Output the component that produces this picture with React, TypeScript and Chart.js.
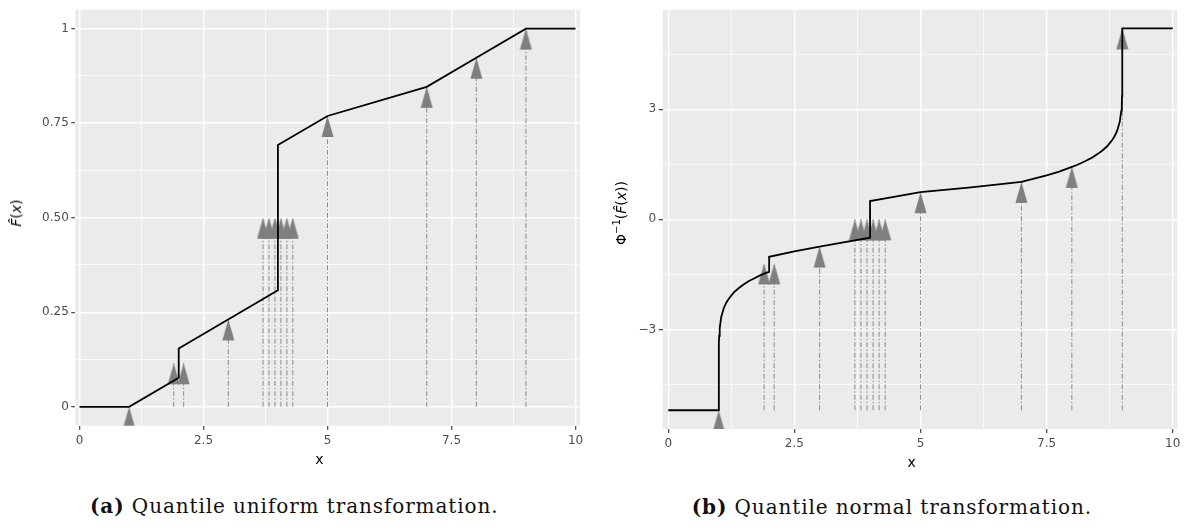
import React, { useEffect, useRef } from 'react';
import { Chart, registerables } from 'chart.js';

Chart.register(...registerables);

// Observations (tied values dodged sideways) and the height each arrow reaches.
const arrowX = [1, 1.9, 2.1, 3, 3.7, 3.82, 3.94, 4.06, 4.18, 4.3, 5, 7, 8, 9];
const uniformArrowY = [0, 0.115, 0.115, 0.231, 0.5, 0.5, 0.5, 0.5, 0.5, 0.5, 0.769, 0.846, 0.923, 1];
const normalArrowY = [-5.2, -1.2, -1.2, -0.74, 0, 0, 0, 0, 0, 0, 0.74, 1.02, 1.43, 5.2];

// Interpolated empirical CDF.
const uniformCurveX = [0, 1, 2, 2, 4, 4, 5, 7, 8, 9, 10];
const uniformCurveY = [0, 0, 0.077, 0.154, 0.308, 0.692, 0.769, 0.846, 0.923, 1, 1];

// Same CDF pushed through the standard normal quantile function (clipped at ±5.2).
const normalCurveX = [
  0, 1, 1.001, 1.005, 1.01, 1.02, 1.05, 1.1, 1.15, 1.2, 1.3, 1.4, 1.5, 1.6, 1.7, 1.8, 1.9, 2,
  2, 2.5, 3, 3.5, 4, 4, 4.5, 5, 6, 7, 7.25, 7.5, 7.75, 8, 8.1, 8.2, 8.3, 8.4, 8.5, 8.6, 8.7,
  8.8, 8.85, 8.9, 8.95, 8.98, 8.99, 8.995, 8.999, 9, 10,
];
const normalCurveY = [
  -5.2, -5.2, -3.78, -3.36, -3.17, -2.96, -2.66, -2.42, -2.27, -2.16, -1.99, -1.87, -1.77, -1.68,
  -1.61, -1.54, -1.48, -1.43, -1.02, -0.87, -0.74, -0.62, -0.5, 0.5, 0.62, 0.74, 0.87, 1.02, 1.11,
  1.2, 1.3, 1.43, 1.48, 1.54, 1.61, 1.68, 1.77, 1.87, 1.99, 2.16, 2.27, 2.42, 2.66, 2.96, 3.17,
  3.36, 3.78, 5.2, 5.2,
];

const xTickValues = [0, 2.5, 5, 7.5, 10];
const xTickLabels = ['0', '2.5', '5', '7.5', '10'];
const xMinorValues = [1.25, 3.75, 6.25, 8.75];

const uniformTickValues = [0, 0.25, 0.5, 0.75, 1];
const uniformTickLabels = ['0', '0.25', '0.50', '0.75', '1'];
const uniformMinorValues = [0.125, 0.375, 0.625, 0.875];

const normalTickValues = [-3, 0, 3];
const normalTickLabels = ['\u22123', '0', '3'];
const normalMinorValues = [-4.5, -1.5, 1.5, 4.5];

const PANEL_BG = '#EBEBEB';
const ARROW_GREY = '#7F7F7F';
const STEM_GREY = '#8A8A8A';
const AXIS_FONT = '"DejaVu Sans", sans-serif';

const panelBackground = {
  id: 'panelBackground',
  beforeDraw(chart: any) {
    const { ctx, chartArea } = chart;
    ctx.save();
    ctx.fillStyle = PANEL_BG;
    ctx.fillRect(chartArea.left, chartArea.top, chartArea.right - chartArea.left, chartArea.bottom - chartArea.top);
    ctx.restore();
  },
};

function makeArrowHead(): HTMLCanvasElement {
  // Apex sits at the image centre so the point position is the arrow tip.
  const c = document.createElement('canvas');
  c.width = 13;
  c.height = 44;
  const g = c.getContext('2d')!;
  g.fillStyle = ARROW_GREY;
  g.beginPath();
  g.moveTo(6.5, 22);
  g.lineTo(12.5, 43);
  g.lineTo(0.5, 43);
  g.closePath();
  g.fill();
  return c;
}

function axisOptions(
  min: number,
  max: number,
  majors: number[],
  labels: string[],
  minors: number[],
  position: 'left' | 'bottom',
  size: number,
) {
  const majorLabel = new Map<number, string>(majors.map((v, i) => [v, labels[i]]));
  return {
    type: 'linear',
    position,
    min,
    max,
    afterBuildTicks: (axis: any) => {
      axis.ticks = [...majors, ...minors].sort((a, b) => a - b).map((v) => ({ value: v }));
    },
    afterFit: (axis: any) => {
      if (position === 'left') axis.width = size;
      else axis.height = size;
    },
    ticks: {
      autoSkip: false,
      maxRotation: 0,
      minRotation: 0,
      padding: position === 'left' ? 2.5 : 3.5,
      color: '#4D4D4D',
      font: { family: AXIS_FONT, size: 12 },
      callback: (v: number) => majorLabel.get(v) ?? '',
    },
    grid: {
      color: '#FFFFFF',
      lineWidth: (ctx: any) => (majorLabel.has(ctx.tick?.value) ? 1.4 : 0.7),
      tickColor: (ctx: any) => (majorLabel.has(ctx.tick?.value) ? '#333333' : 'rgba(0,0,0,0)'),
      tickLength: 4,
      tickWidth: 1.1,
      drawTicks: true,
    },
    border: { display: false },
  };
}

type PanelProps = {
  left: number;
  top: number;
  width: number;
  height: number;
  area: { left: number; top: number; right: number; bottom: number };
  xRange: [number, number];
  yRange: [number, number];
  yTicks: number[];
  yLabels: string[];
  yMinor: number[];
  curveX: number[];
  curveY: number[];
  arrowY: number[];
  stemBase: number;
};

function Panel(p: PanelProps) {
  const ref = useRef<HTMLCanvasElement>(null);

  useEffect(() => {
    const canvas = ref.current;
    if (!canvas) return;
    const head = makeArrowHead();

    const curve = {
      data: p.curveX.map((x, i) => ({ x, y: p.curveY[i] })),
      showLine: true,
      borderColor: '#000000',
      borderWidth: 1.8,
      pointRadius: 0,
      tension: 0,
      fill: false,
      order: 0,
    };
    const heads = {
      data: arrowX.map((x, i) => ({ x, y: p.arrowY[i] })),
      showLine: false,
      pointStyle: head,
      pointRadius: 6,
      clip: 0,
      order: 1,
    };
    const stems = arrowX.map((x, i) => ({
      data: [
        { x, y: p.stemBase },
        { x, y: p.arrowY[i] },
      ],
      showLine: true,
      borderColor: STEM_GREY,
      borderWidth: 1,
      borderDash: [5, 2, 1.5, 2],
      pointRadius: 0,
      order: 2,
    }));

    const chart = new Chart(canvas, {
      type: 'scatter',
      data: { datasets: [curve, heads, ...stems] as any },
      options: {
        responsive: false,
        animation: false,
        events: [],
        layout: {
          padding: { left: 0, top: p.area.top, right: p.width - p.area.right, bottom: 0 },
        },
        scales: {
          x: axisOptions(p.xRange[0], p.xRange[1], xTickValues, xTickLabels, xMinorValues, 'bottom', p.height - p.area.bottom) as any,
          y: axisOptions(p.yRange[0], p.yRange[1], p.yTicks, p.yLabels, p.yMinor, 'left', p.area.left) as any,
        },
        plugins: { legend: { display: false }, tooltip: { enabled: false } },
      },
      plugins: [panelBackground],
    });
    return () => chart.destroy();
  }, []);

  return (
    <canvas
      ref={ref}
      width={p.width}
      height={p.height}
      style={{ position: 'absolute', left: p.left, top: p.top, width: p.width, height: p.height }}
    />
  );
}

const axisTitle: React.CSSProperties = {
  position: 'absolute',
  fontFamily: AXIS_FONT,
  fontSize: 14,
  color: '#000',
  whiteSpace: 'nowrap',
  lineHeight: 1,
};

const caption: React.CSSProperties = {
  position: 'absolute',
  fontFamily: '"DejaVu Serif", serif',
  fontSize: 20,
  letterSpacing: 0.9,
  color: '#111',
  whiteSpace: 'nowrap',
  lineHeight: '20px',
};

export default function App() {
  return (
    <div style={{ position: 'absolute', left: 0, top: 0, width: 1189, height: 531, background: '#fff', overflow: 'hidden' }}>
      <Panel
        left={0}
        top={0}
        width={592}
        height={460}
        area={{ left: 75.3, top: 7, right: 580, bottom: 425.7 }}
        xRange={[-0.085, 10.09]}
        yRange={[-0.05, 1.05]}
        yTicks={uniformTickValues}
        yLabels={uniformTickLabels}
        yMinor={uniformMinorValues}
        curveX={uniformCurveX}
        curveY={uniformCurveY}
        arrowY={uniformArrowY}
        stemBase={0}
      />
      <Panel
        left={600}
        top={0}
        width={589}
        height={465}
        area={{ left: 62.7, top: 3.3, right: 577.3, bottom: 429 }}
        xRange={[-0.11, 10.09]}
        yRange={[-5.71, 5.71]}
        yTicks={normalTickValues}
        yLabels={normalTickLabels}
        yMinor={normalMinorValues}
        curveX={normalCurveX}
        curveY={normalCurveY}
        arrowY={normalArrowY}
        stemBase={-5.2}
      />

      <div style={{ ...axisTitle, left: 16, top: 213, transform: 'translate(-50%, -50%) rotate(-90deg)' }}>
        <i>F{'\u0302'}</i>(<i>x</i>)
      </div>
      <div style={{ ...axisTitle, left: 620, top: 213, transform: 'translate(-50%, -50%) rotate(-90deg)' }}>
        {'\u03A6'}
        <span style={{ fontSize: 10, verticalAlign: 6 }}>{'\u22121'}</span>(<i>F{'\u0302'}</i>(<i>x</i>))
      </div>
      <div style={{ ...axisTitle, left: 319.3, top: 459, transform: 'translate(-50%, -50%)' }}>x</div>
      <div style={{ ...axisTitle, left: 911.7, top: 462, transform: 'translate(-50%, -50%)' }}>x</div>

      <div style={{ ...caption, left: 90, top: 496 }}>
        <b>(a)</b> Quantile uniform transformation.
      </div>
      <div style={{ ...caption, left: 691.7, top: 497 }}>
        <b>(b)</b> Quantile normal transformation.
      </div>
    </div>
  );
}
